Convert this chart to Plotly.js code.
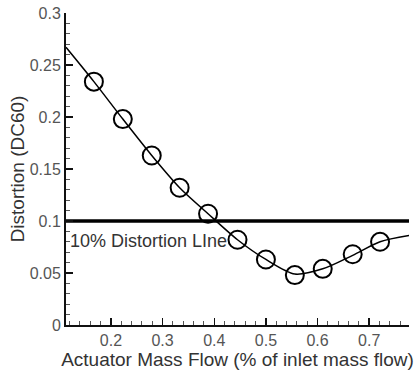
<!DOCTYPE html>
<html>
<head>
<meta charset="utf-8">
<script src="https://cdn.plot.ly/plotly-3.0.1.min.js"></script>
<style>html,body{margin:0;padding:0;background:#fff;}#chart{width:419px;height:373px;}</style>
</head>
<body>
<div id="chart"></div>
<script>
// Measured data points
var massFlow = [0.167, 0.223, 0.279, 0.333, 0.388, 0.445, 0.500, 0.556, 0.610, 0.668, 0.721];
var distortion = [0.234, 0.198, 0.163, 0.132, 0.107, 0.082, 0.063, 0.048, 0.054, 0.068, 0.080];
// Fitted curve (extends to the axis edges)
var curveX = [0.113, 0.167, 0.223, 0.279, 0.333, 0.388, 0.445, 0.500, 0.556, 0.610, 0.668, 0.721, 0.777];
var curveY = [0.267, 0.234, 0.198, 0.163, 0.132, 0.107, 0.082, 0.063, 0.049, 0.054, 0.067, 0.080, 0.086];
// 10% distortion threshold
var thresholdX = [0.113, 0.777];
var thresholdY = [0.1, 0.1];
var xTicks = [0.2, 0.3, 0.4, 0.5, 0.6, 0.7];
var xTickText = ['0.2', '0.3', '0.4', '0.5', '0.6', '0.7'];
var yTicks = [0, 0.05, 0.1, 0.15, 0.2, 0.25, 0.3];
var yTickText = ['0', '0.05', '0.1', '0.15', '0.2', '0.25', '0.3'];

var font = 'Liberation Sans, Arial, sans-serif';
var traces = [
  {x: thresholdX, y: thresholdY, mode: 'lines', line: {color: '#000', width: 3.5}, hoverinfo: 'skip'},
  {x: curveX, y: curveY, mode: 'lines', line: {color: '#000', width: 1.5, shape: 'spline', smoothing: 0.8}},
  {x: massFlow, y: distortion, mode: 'markers',
   marker: {symbol: 'circle-open', size: 18, color: '#000', line: {width: 2, color: '#000'}}}
];
var layout = {
  width: 419, height: 373,
  margin: {l: 66, r: 10, t: 13, b: 48},
  paper_bgcolor: '#fff', plot_bgcolor: '#fff',
  showlegend: false,
  font: {family: font, color: '#444'},
  xaxis: {
    range: [0.113, 0.777], showgrid: false, zeroline: false,
    showline: true, linecolor: '#111', linewidth: 2,
    tickmode: 'array', tickvals: xTicks, ticktext: xTickText,
    ticks: 'inside', ticklen: 7, tickwidth: 1.5, tickcolor: '#111',
    minor: {dtick: 0.02, ticks: 'inside', ticklen: 4, tickcolor: '#555', tickwidth: 1},
    tickfont: {size: 16, color: '#555'},
    title: {text: 'Actuator Mass Flow (% of inlet mass flow)', font: {size: 19, color: '#333'}, standoff: 1}
  },
  yaxis: {
    range: [0, 0.3], showgrid: false, zeroline: false,
    showline: true, linecolor: '#111', linewidth: 2,
    tickmode: 'array', tickvals: yTicks, ticktext: yTickText,
    ticks: 'inside', ticklen: 7, tickwidth: 1.5, tickcolor: '#111',
    minor: {dtick: 0.01, ticks: 'inside', ticklen: 4, tickcolor: '#555', tickwidth: 1},
    tickfont: {size: 16, color: '#555'},
    title: {text: 'Distortion (DC60)', font: {size: 19, color: '#333'}, standoff: 0}
  },
  annotations: [{
    x: 0.117, y: 0.0805, xref: 'x', yref: 'y', xanchor: 'left', yanchor: 'middle',
    text: '10% Distortion LIne', showarrow: false, font: {size: 18, color: '#333'}
  }]
};
Plotly.newPlot('chart', traces, layout, {displayModeBar: false, staticPlot: true});
</script>
</body>
</html>
